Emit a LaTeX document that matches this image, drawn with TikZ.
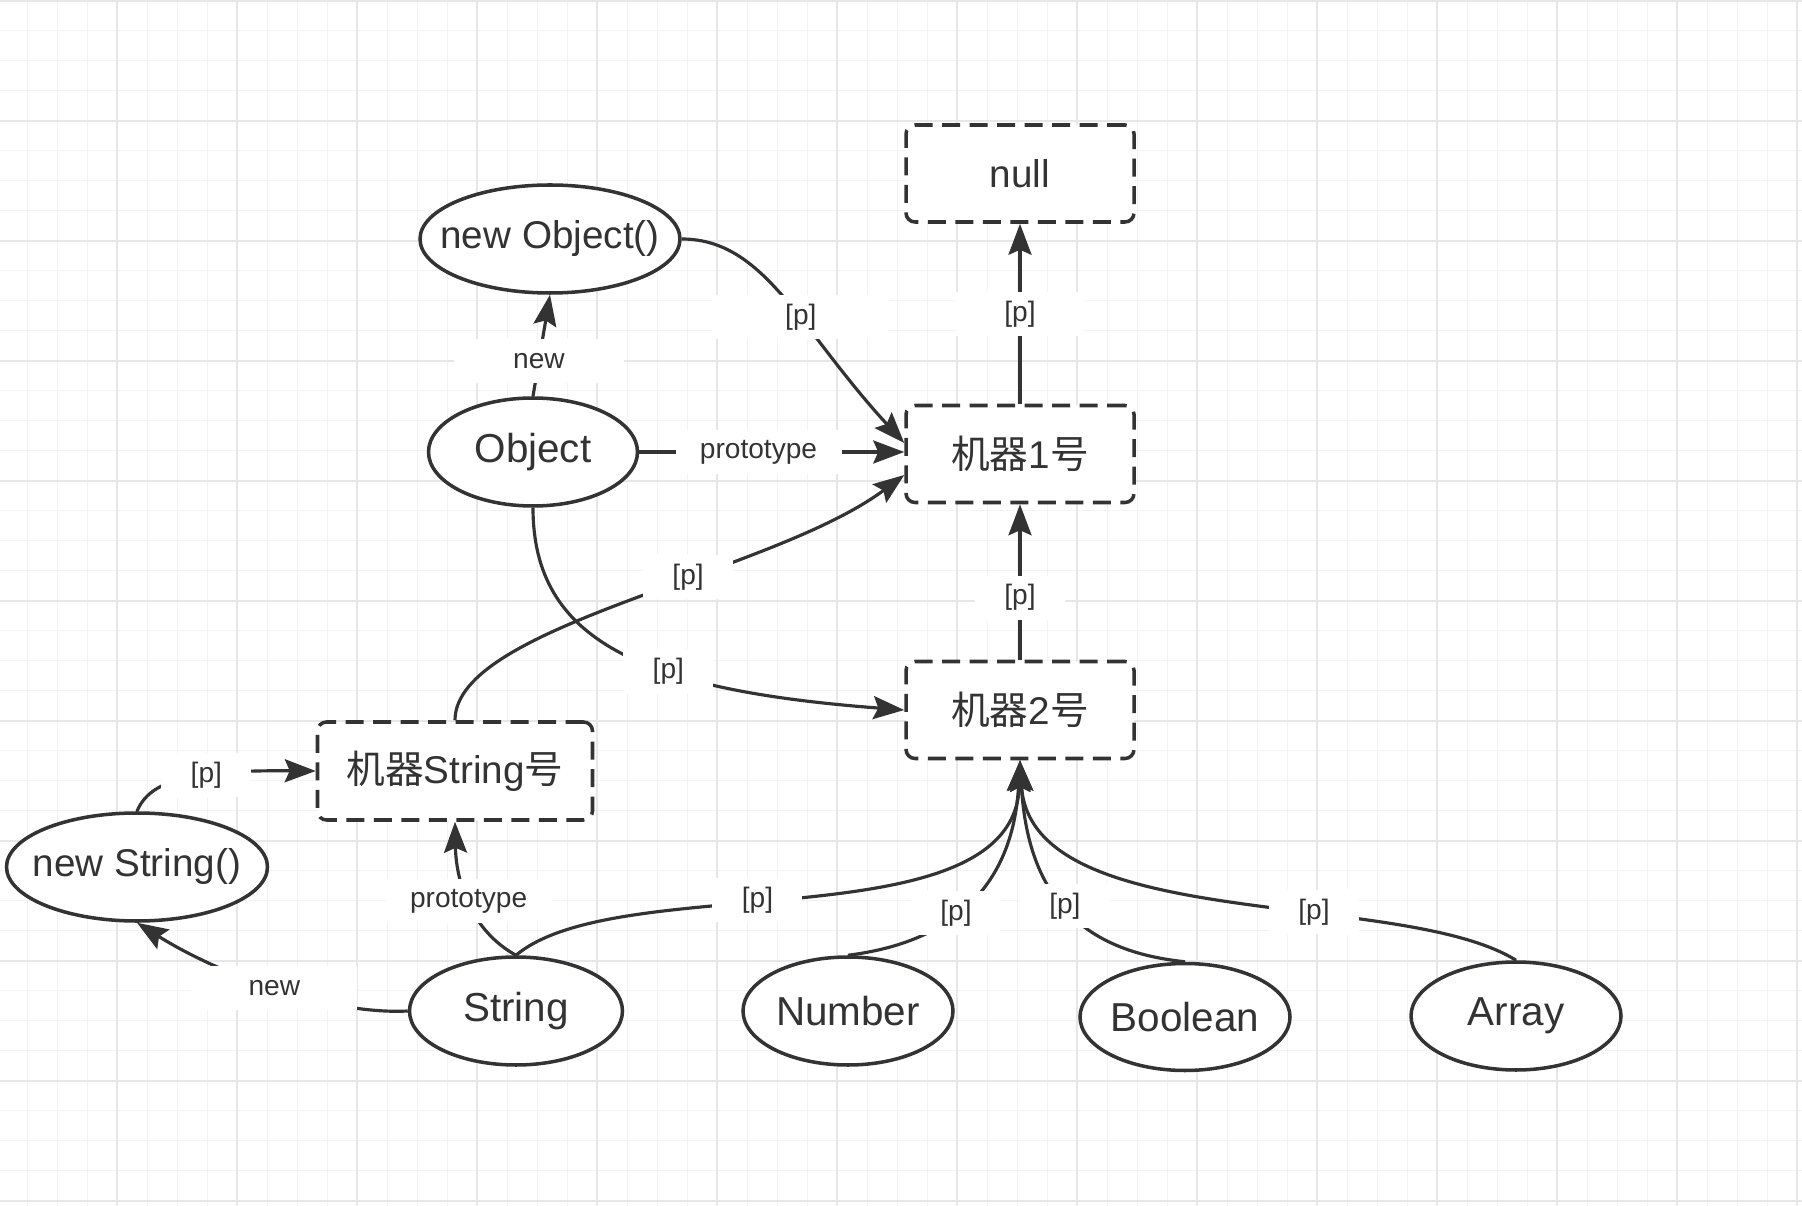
\documentclass[tikz,border=0pt]{standalone}
\usepackage{fontspec}
\setmainfont{Liberation Sans}
\newfontfamily\cjk{Noto Sans CJK SC}
\usetikzlibrary{arrows.meta,shapes.geometric}
\definecolor{ink}{HTML}{333333}
\definecolor{gridlo}{HTML}{F3F3F6}
\definecolor{gridhi}{HTML}{E7E7EB}
\begin{document}
\begin{tikzpicture}[x=.1mm, y=-.1mm,
  gridmin/.style={gridlo, line width=.45pt},
  gridmaj/.style={gridhi, line width=.6pt},
  box/.style={draw=ink, line width=1pt, dash pattern=on 1.8mm off .95mm,
    rounded corners=.9mm, fill=white, minimum width=22.8mm,
    minimum height=9.7mm, inner sep=0pt, text=ink,
    font=\fontsize{11}{13}\selectfont},
  oval/.style={ellipse, draw=ink, line width=1pt, fill=white,
    minimum width=21mm, minimum height=10.8mm, inner xsep=-2.5mm,
    inner ysep=0pt, text=ink, font=\fontsize{11.5}{13}\selectfont},
  link/.style={draw=ink, line width=.9pt,
    -{Stealth[length=3.1mm, width=2.3mm, inset=.5mm]}},
  lbl/.style={fill=white, text=ink, font=\fontsize{8}{10}\selectfont,
    minimum width=9mm, minimum height=4.4mm, inner sep=0pt}]
  \fill[white] (0,0) rectangle (1802,1206);
  \useasboundingbox (0,0) rectangle (1802,1206);
  \foreach \k in {0,...,59} \draw[gridmin] ({27.3+30*\k},0) -- ++(0,1206);
  \foreach \k in {0,...,40} \draw[gridmin] (0,{0.7+30*\k}) -- ++(1802,0);
  \foreach \k in {0,...,14} \draw[gridmaj] ({117.3+120*\k},0) -- ++(0,1206);
  \foreach \k in {0,...,10} \draw[gridmaj] (0,{0.7+120*\k}) -- ++(1802,0);

  \node[box] (null) at (1020,173.5) {null};
  \node[box] (m1) at (1020,454) {{\cjk 机器}1{\cjk 号}};
  \node[box] (m2) at (1020,710) {{\cjk 机器}2{\cjk 号}};
  \node[box, minimum width=27.5mm, minimum height=9.8mm] (mstr) at (455,771)
    {{\cjk 机器}String{\cjk 号}};
  \node[oval, minimum width=26mm, font=\fontsize{11}{13}\selectfont] (newobj)
    at (550,239) {new Object()};
  \node[oval, minimum width=20.9mm] (obj) at (533,452) {Object};
  \node[oval, minimum width=26.1mm, font=\fontsize{11}{13}\selectfont] (newstr)
    at (137,867) {new String()};
  \node[oval, minimum width=21.3mm] (str) at (516,1011) {String};
  \node[oval] (num) at (848,1011) {Number};
  \node[oval, minimum height=10.7mm] (bool) at (1185,1017) {Boolean};
  \node[oval] (arr) at (1516,1016) {Array};

  \draw[link] (obj.north) -- node[lbl, pos=.35, minimum width=17mm] {new}
    (newobj.south);
  \draw[link] (newobj.east) .. controls (765,239) and (800,330) ..
    node[lbl, pos=.58, minimum width=17.7mm] {[p]} ([yshift=1.1mm]m1.west);
  \draw[link] (m1.north) -- node[lbl, minimum width=12.8mm] {[p]} (null.south);
  \draw[link] (obj.east) -- node[lbl, pos=.45, minimum width=16.6mm]
    {prototype} (obj.east -| m1.west);
  \draw[link] (mstr.north) .. controls (455,625) and (770,575) ..
    node[lbl, pos=.6] {[p]} ([yshift=-2.1mm]m1.west);
  \draw[link] (obj.south) .. controls (533,640) and (640,690) ..
    node[lbl, pos=.62] {[p]} (m2.west);
  \draw[link] (m2.north) -- node[lbl, pos=.4] {[p]} (m1.south);
  \draw[link] (str.north) .. controls (470,930) and (456,880) ..
    node[lbl, minimum width=16.6mm] {prototype} (mstr.south);
  \draw[link] (str.west) .. controls (330,1015) and (220,975) ..
    node[lbl, minimum width=16.6mm] {new} (newstr.south);
  \draw[link] (newstr.north) .. controls (150,780) and (190,770) ..
    node[lbl, pos=.62] {[p]} (mstr.west);
  \draw[link] (str.north) .. controls (620,868) and (1015,945) ..
    node[lbl, pos=.43] {[p]} (m2.south);
  \draw[link] (num.north) .. controls (930,945) and (1012,905) ..
    node[lbl, pos=.47] {[p]} (m2.south);
  \draw[link] (bool.north) .. controls (1090,952) and (1028,905) ..
    node[lbl, pos=.53] {[p]} (m2.south);
  \draw[link] (arr.north) .. controls (1400,888) and (1030,935) ..
    node[lbl, pos=.37] {[p]} (m2.south);
\end{tikzpicture}
\end{document}
